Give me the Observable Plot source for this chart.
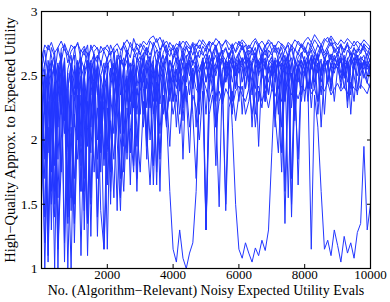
<!DOCTYPE html>
<html>
<head>
<meta charset="utf-8">
<script src="https://cdn.jsdelivr.net/npm/d3@7"></script>
<script src="https://cdn.jsdelivr.net/npm/@observablehq/plot@0.6"></script>
<style>
  html, body { margin: 0; padding: 0; background: #fff; }
  #chart svg { display: block; }
</style>
</head>
<body>
<div id="chart"></div>
<script>
const evalStep = 100; // evaluations between successive samples
const xTicks = [0, 2000, 4000, 6000, 8000, 10000];
const xTickLabels = ["", "2000", "4000", "6000", "8000", "10000"];
const yTicks = [1, 1.5, 2, 2.5, 3];
const xTitle = "No. (Algorithm\u2212Relevant) Noisy Expected Utility Evals";
const yTitle = "High\u2212Quality Approx. to Expected Utility";

const run1 = [2.62,2.74,2.70,2.76,2.68,2.72,2.77,2.70,2.66,2.74,
2.71,2.75,2.69,2.73,2.66,2.70,2.74,2.71,2.68,2.72,
2.70,2.66,2.72,2.75,2.70,2.74,2.78,2.73,2.69,2.75,
2.72,2.77,2.74,2.79,2.81,2.76,2.80,2.74,2.77,2.72,
2.70,2.75,2.73,2.77,2.74,2.71,2.76,2.73,2.78,2.75,
2.72,2.77,2.74,2.79,2.76,2.73,2.78,2.75,2.72,2.76,
2.74,2.78,2.75,2.71,2.76,2.79,2.74,2.77,2.73,2.78,
2.75,2.72,2.77,2.74,2.70,2.76,2.73,2.78,2.75,2.72,
2.77,2.80,2.76,2.82,2.78,2.74,2.79,2.76,2.81,2.77,
2.74,2.78,2.75,2.79,2.76,2.73,2.77,2.74,2.78,2.75,2.72];
const run2 = [2.55,2.70,2.48,2.72,2.65,2.30,2.71,2.74,2.60,2.69,
2.73,2.52,2.70,2.66,2.74,2.45,2.69,2.72,2.58,2.70,
2.74,2.68,2.71,2.40,2.69,2.73,2.66,2.76,2.70,2.62,
2.75,2.71,2.66,2.77,2.73,2.79,2.70,2.74,2.68,2.76,
2.72,2.60,2.75,2.70,2.77,2.73,2.66,2.75,2.71,2.78,
2.74,2.69,2.76,2.72,2.63,2.74,2.77,2.70,2.75,2.68,
2.73,2.76,2.66,2.74,2.70,2.77,2.72,2.60,2.73,2.76,
2.70,2.74,2.67,2.75,2.72,2.64,2.74,2.70,2.77,2.73,
2.68,2.76,2.72,2.78,2.74,2.69,2.77,2.80,2.73,2.76,
2.71,2.75,2.68,2.74,2.71,2.77,2.73,2.69,2.75,2.72,2.70];
const run3 = [2.45,2.60,1.90,2.55,2.68,2.10,2.62,2.40,1.60,2.58,
2.66,2.20,2.63,2.55,1.95,2.60,2.67,2.35,2.62,2.50,
2.64,2.68,2.30,2.62,2.66,2.55,2.70,2.45,2.66,2.72,
2.68,2.60,2.72,2.66,2.74,2.58,2.70,2.75,2.66,2.71,
2.64,2.70,2.52,2.68,2.73,2.66,2.58,2.70,2.74,2.68,
2.62,2.71,2.66,2.74,2.50,2.68,2.72,2.64,2.70,2.40,
2.66,2.72,2.68,2.58,2.71,2.66,2.74,2.69,2.55,2.70,
2.66,2.72,2.62,2.68,2.50,2.66,2.71,2.60,2.69,2.74,
2.70,2.65,2.72,2.67,2.74,2.70,2.62,2.71,2.76,2.68,
2.72,2.66,2.70,2.74,2.68,2.62,2.71,2.67,2.73,2.69,2.66];
const run4 = [2.30,1.40,2.50,2.62,1.80,2.55,2.65,1.20,2.40,2.60,
2.10,2.58,2.64,1.70,2.55,2.62,2.20,2.60,2.48,1.85,
2.58,2.63,2.50,2.66,2.05,2.60,2.67,2.55,2.40,2.64,
2.60,2.68,2.52,2.65,2.20,2.62,2.68,2.57,2.66,2.50,
2.63,2.68,2.58,2.30,2.64,2.69,2.60,2.66,2.55,2.62,
2.67,2.58,2.64,2.10,2.60,2.66,2.62,2.68,2.56,2.63,
2.68,2.60,2.65,2.45,2.62,2.68,2.58,2.65,2.70,2.60,
2.40,2.64,2.58,2.10,2.60,2.66,1.70,2.55,2.64,2.68,
2.60,2.66,2.55,2.68,2.62,2.70,2.64,2.58,2.67,2.62,
2.68,2.60,2.66,2.30,2.63,2.68,2.58,2.65,2.61,2.67,2.60];
const run5 = [2.10,2.50,1.10,2.40,2.60,1.55,2.45,2.62,1.90,1.00,
2.30,2.55,1.60,2.48,2.60,1.25,2.35,2.58,2.05,2.50,
1.15,2.40,2.60,2.25,1.70,2.55,2.62,2.30,2.58,1.95,
2.50,2.64,2.40,2.60,1.80,2.56,2.66,2.45,2.20,1.60,
1.15,1.05,1.30,1.08,1.00,1.12,1.20,1.60,2.40,2.62,
2.55,2.66,2.48,2.60,2.68,2.30,2.62,2.56,2.66,2.50,
2.63,2.58,2.68,2.40,2.60,2.66,2.55,2.64,2.30,2.60,
2.65,2.52,2.62,1.90,2.58,2.66,2.45,2.62,2.55,2.68,
2.60,2.30,2.64,2.58,2.67,2.50,2.62,2.68,2.56,2.64,
2.58,2.66,2.50,2.62,2.68,2.55,2.64,2.40,2.62,2.57,2.64];
const run6 = [2.40,1.70,2.55,2.30,1.00,2.45,2.60,2.05,2.52,1.45,
2.58,2.40,2.62,1.30,2.50,2.60,2.20,2.56,1.75,2.48,
2.60,1.50,2.52,2.62,2.35,2.58,1.85,2.55,2.64,2.42,
2.60,2.10,2.58,2.65,2.48,2.62,2.28,2.60,2.66,2.52,
2.30,2.62,2.55,2.66,2.45,2.60,2.20,1.70,2.40,2.56,
2.62,2.48,2.60,2.66,2.52,2.35,2.62,2.58,2.10,1.50,
1.15,1.08,1.20,1.12,1.05,1.16,1.10,1.22,1.14,1.30,
1.90,2.50,2.62,2.56,2.66,2.48,2.60,2.30,2.62,2.56,
2.65,2.40,2.60,2.66,2.52,2.63,2.20,2.60,2.66,2.55,
2.62,2.48,2.64,2.58,2.35,2.62,2.66,2.55,2.62,2.50,2.60];
const run7 = [2.20,2.55,1.30,2.48,2.60,1.85,2.52,1.05,2.40,2.58,
1.50,2.50,2.60,2.15,1.35,2.55,2.62,2.00,2.50,2.60,
1.95,2.56,2.40,1.45,2.58,2.64,2.30,2.55,1.80,2.60,
2.65,2.45,2.62,2.25,2.58,1.75,2.60,2.66,2.50,2.62,
2.56,2.64,2.40,2.60,2.66,2.50,2.62,2.58,2.35,2.62,
1.30,2.50,2.62,2.55,2.64,2.45,1.50,2.58,2.64,2.50,
2.62,2.56,2.40,2.64,2.58,2.66,2.50,2.62,2.30,2.60,
2.64,2.55,2.20,2.58,1.60,2.50,1.40,2.45,2.58,2.30,
2.55,2.40,1.15,2.35,2.10,1.60,1.15,1.22,1.10,1.30,
1.18,1.05,1.25,1.12,1.20,1.08,1.28,1.35,1.95,1.30,1.50];
const run8 = [1.80,2.40,2.55,1.30,2.45,2.60,2.20,2.50,1.65,2.45,
2.55,2.00,2.48,2.58,1.40,2.42,2.55,1.70,2.50,2.35,
2.52,1.60,2.45,2.55,2.10,2.50,1.90,2.48,2.58,2.20,
2.52,2.40,1.95,2.50,2.58,2.30,2.46,2.55,2.15,2.50,
2.45,2.55,2.38,2.50,2.30,2.45,2.52,2.40,2.35,2.48,
2.40,2.30,2.42,2.35,2.38,2.28,2.40,2.34,2.25,2.38,
2.42,2.35,2.30,2.40,2.20,2.36,2.42,2.30,2.38,2.25,
2.40,2.34,2.42,2.30,2.38,2.44,2.35,2.40,2.32,2.42,
2.38,2.45,2.36,2.40,2.30,2.42,2.38,2.45,2.35,2.40,
2.44,2.38,2.42,2.36,2.45,2.40,2.38,2.43,2.40,2.36,2.45];
const run9 = [2.00,1.20,2.30,1.60,2.45,1.00,2.20,2.50,1.35,2.10,
1.70,2.35,1.10,2.20,2.45,1.55,2.30,1.85,2.40,1.15,
2.25,1.75,2.40,2.00,1.45,2.35,2.50,1.90,2.42,1.60,
2.38,2.55,2.05,2.45,1.65,2.40,2.58,2.20,2.50,2.30,
2.55,2.10,2.48,2.60,2.35,1.90,2.52,2.62,2.40,2.56,
2.20,2.58,2.48,1.80,2.55,2.62,2.45,2.58,2.30,2.60,
2.52,2.64,2.40,2.58,2.10,2.55,2.62,2.48,2.60,2.35,
2.58,2.20,1.90,2.50,2.60,1.55,2.52,2.35,1.85,2.58,
2.50,2.62,2.25,2.56,2.64,2.45,2.58,2.62,2.40,2.60,
2.55,2.64,2.48,2.60,2.20,2.58,2.64,2.50,2.62,2.45,2.40];
const run10 = [2.70,2.58,2.74,2.66,2.50,2.72,2.60,2.75,2.68,2.55,
2.70,2.76,2.62,2.71,2.56,2.74,2.66,2.60,2.73,2.69,
2.62,2.74,2.67,2.71,2.58,2.76,2.70,2.64,2.79,2.72,
2.66,2.74,2.69,2.60,2.76,2.71,2.66,2.78,2.70,2.65,
2.74,2.68,2.77,2.62,2.72,2.66,2.75,2.70,2.64,2.73,
2.69,2.76,2.60,2.72,2.77,2.66,2.71,2.63,2.74,2.69,
2.77,2.70,2.74,2.66,2.72,2.60,2.75,2.70,2.66,2.73,
2.76,2.68,2.72,2.62,2.70,2.74,2.58,2.71,2.66,2.75,
2.72,2.67,2.76,2.70,2.63,2.74,2.68,2.73,2.79,2.70,
2.66,2.74,2.70,2.76,2.62,2.71,2.68,2.75,2.70,2.66,2.74];
const run11 = [2.55,2.20,2.62,2.45,1.50,2.58,2.35,2.64,1.95,2.55,
2.30,2.60,1.80,2.52,2.62,2.10,2.55,2.40,1.45,1.15,
1.90,2.50,2.58,2.30,2.62,1.75,2.54,2.60,2.25,2.58,
2.45,2.64,2.00,2.56,2.62,1.65,2.50,2.60,2.35,2.62,
2.50,2.30,2.60,1.85,2.55,2.62,2.40,2.58,2.20,2.60,
1.30,2.45,2.58,2.25,1.48,2.55,2.62,2.40,2.58,2.50,
2.62,2.20,2.56,2.64,2.35,2.58,1.95,2.55,2.62,2.45,
2.58,2.62,2.40,2.55,1.35,2.48,2.60,2.15,2.56,2.62,
2.30,2.58,2.64,2.45,2.60,2.10,2.55,2.62,2.38,2.60,
2.56,2.45,2.62,2.25,2.58,2.64,2.40,2.60,2.52,2.44,2.60];
const run12 = [2.35,1.90,2.50,2.10,1.40,2.30,1.75,2.45,2.05,1.55,
2.20,1.85,2.35,1.60,2.10,2.40,1.75,2.25,1.95,2.30,
1.65,2.15,1.85,2.35,2.00,1.60,2.25,1.90,2.38,2.10,
1.75,2.30,2.05,1.65,2.20,2.45,1.90,2.35,2.10,2.50,
2.30,2.55,2.20,2.48,2.60,2.35,2.56,2.10,2.52,2.62,
2.45,2.60,2.38,2.56,2.64,2.30,2.58,2.50,2.62,2.40,
2.58,2.64,2.50,2.60,2.45,2.62,2.30,2.58,2.64,2.52,
2.60,2.45,2.62,2.56,2.30,2.60,2.64,2.48,2.58,2.62,
2.55,2.64,2.40,2.60,2.66,2.52,2.62,2.45,2.60,2.66,
2.58,2.62,2.50,2.64,2.40,2.60,2.66,2.55,2.62,2.58,2.64];
const run13 = [1.60,2.30,1.05,2.20,2.45,1.30,2.00,2.40,1.50,2.35,
1.20,2.25,2.50,1.45,2.30,1.90,2.45,1.25,2.20,2.40,
1.70,2.35,2.05,2.50,1.55,2.30,2.45,2.10,1.75,2.40,
2.20,2.55,1.85,2.45,2.30,2.58,2.05,2.50,2.35,1.95,
2.50,2.40,2.58,2.25,2.52,2.62,2.45,2.58,2.30,2.55,
2.62,2.40,2.58,2.50,2.64,2.35,2.58,2.62,2.45,2.60,
2.30,2.56,2.62,2.48,2.60,2.20,2.55,2.62,2.40,2.58,
2.50,2.62,2.35,1.75,2.55,2.62,2.45,2.20,2.58,2.50,
2.62,2.40,2.58,2.64,2.30,2.55,2.62,2.45,2.60,2.52,
2.64,2.40,2.58,2.62,2.50,2.30,2.60,2.64,2.48,2.58,2.55];
const run14 = [2.65,2.30,2.58,1.75,2.62,2.45,2.68,2.15,2.55,2.66,
2.40,2.62,2.05,2.58,2.68,2.35,2.60,2.66,1.90,2.55,
2.64,2.45,2.68,2.30,2.62,2.58,2.70,2.20,2.64,2.68,
2.50,2.66,2.72,2.40,2.64,2.70,2.55,2.68,2.74,2.45,
2.66,2.72,2.60,2.70,2.52,2.68,2.74,2.62,2.70,2.66,
2.72,2.58,2.68,2.74,2.64,2.70,2.45,2.66,2.72,2.60,
2.68,2.74,2.62,2.70,2.66,2.72,2.55,2.68,2.74,2.64,
2.70,2.50,2.66,2.72,2.60,2.68,2.74,2.62,2.45,2.66,
2.72,2.64,2.70,2.58,2.68,2.74,2.66,2.70,2.62,2.72,
2.68,2.74,2.60,2.70,2.66,2.72,2.64,2.68,2.74,2.62,2.70];
const run15 = [2.50,1.85,2.40,2.60,1.60,2.45,2.20,2.58,1.40,2.50,
2.35,2.60,1.95,2.48,2.25,1.50,2.45,2.58,2.15,2.50,
2.40,1.80,2.52,2.30,2.58,2.05,2.45,1.65,2.50,2.35,
2.55,2.20,2.48,2.00,2.40,2.25,1.85,2.35,2.15,2.40,
2.20,2.35,2.05,2.30,2.42,2.10,2.35,2.25,2.00,2.38,
1.30,2.20,2.35,2.10,2.30,2.40,1.45,2.25,2.38,2.15,
2.35,2.42,2.20,2.30,2.45,2.10,2.38,2.25,2.50,2.35,
2.55,2.20,2.48,2.60,2.30,2.52,1.50,2.45,2.58,2.35,
2.55,2.62,2.40,2.58,2.20,2.55,2.62,2.45,2.58,2.30,
2.56,2.62,2.40,2.58,2.64,2.50,2.35,2.60,2.55,2.62,2.48];
const run16 = [2.40,1.00,2.10,1.50,2.30,1.15,1.80,2.35,1.00,2.05,
1.35,2.25,1.60,2.40,1.10,2.15,2.45,1.40,2.30,1.80,
2.45,2.10,1.55,2.40,2.55,1.95,2.48,2.30,2.58,1.70,
2.50,2.62,2.25,2.55,2.40,2.60,1.60,2.52,2.64,2.35,
2.58,2.45,2.62,2.15,2.55,2.66,2.40,2.60,2.52,2.64,
2.45,2.60,2.66,2.30,2.58,2.64,2.50,2.62,2.20,2.58,
2.64,2.45,2.60,2.66,2.52,2.40,2.62,2.66,2.30,2.58,
2.62,2.10,2.55,2.64,2.45,2.60,2.25,2.58,1.65,2.50,
2.62,2.55,2.66,2.40,2.60,2.35,2.64,2.58,2.45,2.62,
2.66,2.52,2.60,2.45,2.64,2.58,2.50,2.62,2.66,2.55,2.60];

const runs = [run1, run2, run3, run4, run5, run6, run7, run8, run9, run10, run11, run12, run13, run14, run15, run16];
const rows = runs.flatMap((vals, s) => vals.map((v, i) => ({run: s, evals: i * evalStep, value: v})));

const lineColor = "#2236ff";
const font = "'Liberation Serif', 'Times New Roman', serif";

const chart = Plot.plot({
  width: 390,
  height: 302,
  marginLeft: 41,
  marginRight: 20,
  marginTop: 11,
  marginBottom: 34,
  style: {fontFamily: font, fontSize: "13px", color: "#000", background: "#fff", overflow: "visible"},
  x: {domain: [0, 10000], axis: null},
  y: {domain: [1, 3], axis: null},
  marks: [
    Plot.line(rows, {x: "evals", y: "value", z: "run", stroke: lineColor, strokeWidth: 1, clip: true}),
    Plot.frame({stroke: "#000", strokeWidth: 1.2}),
    // inward ticks on all four sides
    Plot.axisX({ticks: xTicks, anchor: "bottom", tickSize: 4, dy: -4, tickFormat: () => "", label: null, stroke: "#000"}),
    Plot.axisX({ticks: xTicks, anchor: "top", tickSize: 4, dy: 4, tickFormat: () => "", label: null, stroke: "#000"}),
    Plot.axisY({ticks: yTicks, anchor: "left", tickSize: 4, dx: 4, tickFormat: () => "", label: null, stroke: "#000"}),
    Plot.axisY({ticks: yTicks, anchor: "right", tickSize: 4, dx: -4, tickFormat: () => "", label: null, stroke: "#000"}),
    // tick labels
    Plot.axisX({ticks: xTicks, anchor: "bottom", tickSize: 0, tickPadding: 1.5, fontSize: 13, tickFormat: (d, i) => xTickLabels[i], label: null, fill: "#000"}),
    Plot.axisY({ticks: yTicks, anchor: "left", tickSize: 0, tickPadding: 4, fontSize: 13.5, tickFormat: d3.format("~g"), label: null, fill: "#000"}),
    // axis titles
    Plot.text([xTitle], {frameAnchor: "bottom", dy: 26.5, text: d => d, fill: "#000", fontSize: 14}),
    Plot.text([yTitle], {frameAnchor: "left", dx: -31, rotate: -90, textAnchor: "middle", text: d => d, fill: "#000", fontSize: 14.5})
  ]
});
document.getElementById("chart").appendChild(chart);
</script>
</body>
</html>
